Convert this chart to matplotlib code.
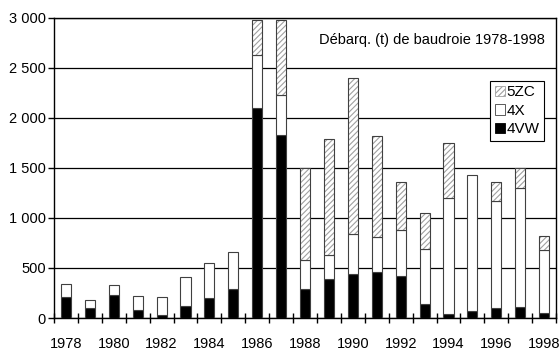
import matplotlib.pyplot as plt
import numpy as np
from matplotlib.patches import Patch

plt.rcParams['font.family'] = ['Liberation Sans', 'DejaVu Sans']
plt.rcParams['hatch.linewidth'] = 0.8

# landings (t) by area, 1978-1998
years = list(range(1978, 1999))
vw4 = [205, 100, 225, 75, 35, 120, 200, 290, 2100, 1830, 290, 390, 443, 460, 415, 135, 45, 70, 100, 113, 50]
x4 = [135, 80, 100, 140, 175, 290, 350, 370, 530, 395, 290, 235, 397, 345, 465, 555, 1150, 1355, 1065, 1185, 630]
zc5 = [0, 0, 0, 0, 0, 0, 0, 0, 345, 750, 915, 1165, 1557, 1015, 475, 355, 550, 0, 195, 195, 137]
yticks = [0, 500, 1000, 1500, 2000, 2500, 3000]
ylabels = ['0', '500', '1 000', '1 500', '2 000', '2 500', '3 000']

fig = plt.figure(figsize=(5.6, 3.5), dpi=100)
ax = fig.add_axes([0.0964, 0.0914, 0.8966, 0.8586])

x = np.arange(len(years))
w = 0.42
vw4 = np.array(vw4)
x4 = np.array(x4)
zc5 = np.array(zc5)

ax.bar(x, vw4, w, color='black', edgecolor='#404040', linewidth=0.8, zorder=3)
ax.bar(x, x4, w, bottom=vw4, color='white', edgecolor='#404040', linewidth=0.8, zorder=3)
# hatched part: gray hatch, then dark outline on top
ax.bar(x, zc5, w, bottom=vw4 + x4, color='white', edgecolor='#a0a0a0', hatch='//////',
       linewidth=0, zorder=3)
ax.bar(x[zc5 > 0], zc5[zc5 > 0], w, bottom=(vw4 + x4)[zc5 > 0], fill=False,
       edgecolor='#404040', linewidth=0.8, zorder=4)

ax.set_xlim(-0.5, len(years) - 0.5)
ax.set_ylim(0, 3000)
ax.set_yticks(yticks)
ax.set_yticklabels(ylabels)
ax.yaxis.grid(True, color='black', linewidth=0.9)
ax.set_axisbelow(True)

ax.set_xticks(x[::2])
ax.set_xticklabels([str(y) for y in years[::2]])
ax.set_xticks(np.arange(-0.5, len(years), 1), minor=True)
ax.tick_params(axis='x', which='major', length=0, pad=14, labelsize=10.5)
ax.tick_params(axis='x', which='minor', direction='inout', length=7, width=1)
ax.tick_params(axis='y', direction='out', length=4, width=1, labelsize=10.5, pad=2)

for s in ax.spines.values():
    s.set_linewidth(1)
    s.set_color('black')

ax.text(0.978, 0.925, 'Débarq. (t) de baudroie 1978-1998', transform=ax.transAxes,
        ha='right', va='center', fontsize=10.5)

handles = [Patch(facecolor='white', edgecolor='#a0a0a0', hatch='//////', linewidth=0.6),
           Patch(facecolor='white', edgecolor='#404040', linewidth=0.6),
           Patch(facecolor='black', edgecolor='black', linewidth=0.6)]
leg = ax.legend(handles, ['5ZC', '4X', '4VW'], loc='upper right', bbox_to_anchor=(0.976, 0.79),
                fontsize=11, frameon=True, fancybox=False, framealpha=1, edgecolor='black',
                handlelength=0.65, handleheight=0.65, handletextpad=0.1, labelspacing=0.3,
                borderpad=0.3, borderaxespad=0)
leg.get_frame().set_linewidth(0.8)

fig.savefig('out.png', dpi=100)
